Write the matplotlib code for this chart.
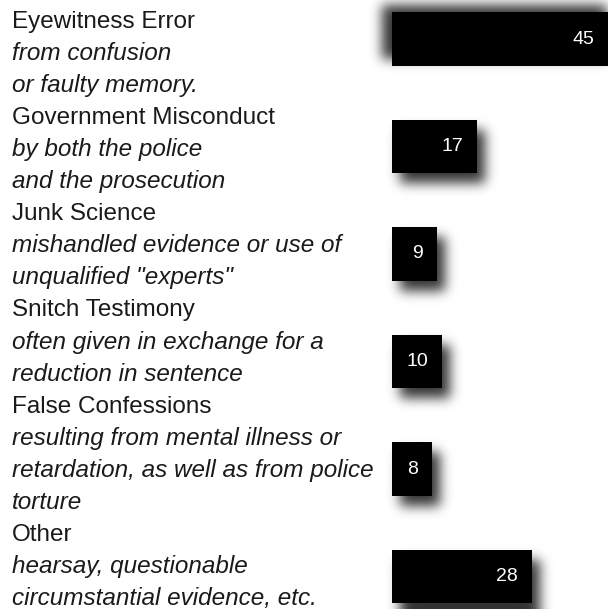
import numpy as np
import matplotlib
matplotlib.use('Agg')
import matplotlib.pyplot as plt
from matplotlib.transforms import offset_copy

# data
categories = ['Eyewitness Error', 'Government Misconduct', 'Junk Science',
              'Snitch Testimony', 'False Confessions', 'Other']
descriptions = [
    ['from confusion', 'or faulty memory.'],
    ['by both the police', 'and the prosecution'],
    ['mishandled evidence or use of', 'unqualified "experts"'],
    ['often given in exchange for a', 'reduction in sentence'],
    ['resulting from mental illness or', 'retardation, as well as from police', 'torture'],
    ['hearsay, questionable', 'circumstantial evidence, etc.'],
]
counts = [45, 17, 9, 10, 8, 28]

# style
W, H = 608, 609
shadow_dir = [(-10, 7)] + [(8, -10)] * 5   # pixel offsets (x, y up)
font = 'Liberation Sans'

fig = plt.figure(figsize=(W / 100, H / 100), dpi=100)
fig.patch.set_facecolor('white')

# shadow layer under the bars
sax = fig.add_axes([0, 0, 1, 1], zorder=0)
sax.set_axis_off()

ax = fig.add_axes([392 / W, 0, 216 / W, 1], zorder=1)
ax.patch.set_alpha(0)
ax.set_axis_off()
y = np.arange(len(counts))
bars = ax.barh(y, counts, height=0.5, color='black', left=0)
ax.set_xlim(0, 216 / 5)
ax.set_ylim((H - 39) / 107.5, -39 / 107.5)

xmax = ax.get_xlim()[1]
lab_trans = offset_copy(ax.transData, fig=fig, x=-14, y=0, units='dots')
for i, v in enumerate(counts):
    ax.text(min(v, xmax), i, str(v), transform=lab_trans, ha='right', va='center',
            color='white', fontsize=14, family=font, clip_on=False)

# left hand text block
line = 0
for cat, desc in zip(categories, descriptions):
    fig.text(12 / W, 1 - (28 + 32.05 * line) / H, cat, fontsize=17.5, family=font,
             va='baseline', ha='left', color='#1a1a1a')
    line += 1
    for d in desc:
        fig.text(12 / W, 1 - (28 + 32.05 * line) / H, d, fontsize=17.5, family=font,
                 style='italic', va='baseline', ha='left', color='#1a1a1a')
        line += 1

# blurred drop shadows
fig.canvas.draw()
mask = np.zeros((H, W))
for b, (dx, dy) in zip(bars, shadow_dir):
    bb = b.get_window_extent()
    x0 = int(round(bb.x0 + dx)); x1 = int(round(bb.x1 + dx))
    y0 = int(round(bb.y0 + dy)); y1 = int(round(bb.y1 + dy))
    mask[max(y0, 0):max(min(y1, H), 0), max(x0, 0):max(min(x1, W + 40), 0)] = 1.0

sigma = 6.0
k = np.arange(-22, 23)
kern = np.exp(-k ** 2 / (2 * sigma ** 2))
kern /= kern.sum()
pad = 25
big = np.pad(mask, pad, mode='edge')
blur = np.apply_along_axis(lambda r: np.convolve(r, kern, mode='same'), 1, big)
blur = np.apply_along_axis(lambda c: np.convolve(c, kern, mode='same'), 0, blur)
blur = blur[pad:-pad, pad:-pad]

rgba = np.zeros((H, W, 4))
rgba[..., 3] = np.clip(blur, 0, 1) * 0.8
sax.imshow(rgba, extent=(0, W, 0, H), origin='lower', interpolation='nearest')
sax.set_xlim(0, W)
sax.set_ylim(0, H)

fig.savefig('out.png', dpi=100, facecolor='white')
